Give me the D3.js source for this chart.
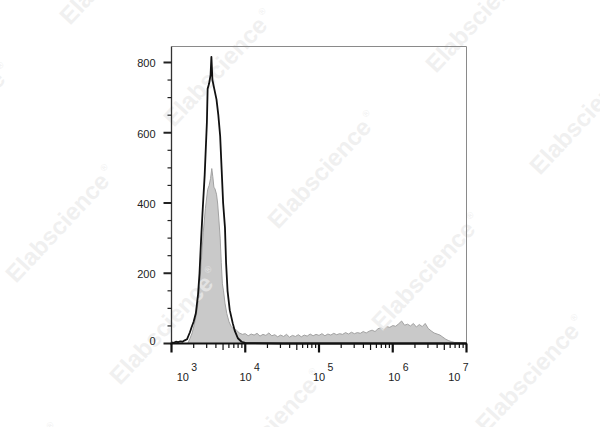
<!DOCTYPE html>
<html><head><meta charset="utf-8">
<script src="https://cdn.jsdelivr.net/npm/d3@7/dist/d3.min.js"></script>
<style>html,body{margin:0;padding:0;background:#fff;} svg{display:block;}</style>
</head><body><svg id="c" width="600" height="427"></svg>
<script>
// ---- data (log10 fluorescence exponent, event count) ----
const blackExp = [3.00,3.03,3.06,3.09,3.12,3.15,3.18,3.21,3.23,3.25,3.27,3.30,3.33,3.36,3.38,3.40,3.42,3.45,3.48,3.49,3.51,3.53,3.541,3.555,3.58,3.61,3.635,3.66,3.68,3.70,3.725,3.74,3.76,3.79,3.83,3.86,3.90,3.95,4.00,4.10,4.50,5.00,5.50,6.00,6.50,7.00];
const blackCount = [3,2,5,4,6,5,9,12,22,32,45,62,86,140,200,290,370,480,630,725,740,765,816,750,725,695,650,590,495,400,330,230,150,95,58,35,15,5,2,1,0,0,0,0,0,0];

const grayExp = [3.22,3.25,3.28,3.31,3.34,3.37,3.40,3.43,3.46,3.49,3.51,3.53,3.546,3.56,3.575,3.59,3.61,3.625,3.64,3.66,3.675,3.69,3.705,3.725,3.75,3.78,3.81,
  3.84,3.88,3.92,3.96,4.00,4.04,4.08,4.12,4.16,4.20,4.24,4.28,4.32,4.36,4.40,4.44,4.48,4.52,4.56,4.60,4.64,4.68,4.72,4.76,4.80,4.84,4.88,4.92,4.96,5.00,
  5.04,5.08,5.12,5.16,5.20,5.24,5.28,5.32,5.36,5.40,5.44,5.48,5.52,5.56,5.60,5.64,5.68,5.72,5.76,5.80,5.84,5.88,5.92,5.96,6.00,6.04,6.08,6.12,6.16,6.20,
  6.24,6.28,6.32,6.36,6.40,6.44,6.48,6.52,6.56,6.60,6.64,6.68,6.72,6.76,6.80,6.84,6.88,6.92,6.96,7.00];
const grayCount = [0,14,30,55,85,135,220,315,385,438,450,470,498,475,445,440,425,400,360,300,230,170,150,115,85,62,48,
  42,38,30,26,28,22,27,24,29,21,26,23,30,22,25,19,24,20,26,18,23,20,25,19,24,21,27,22,26,23,
  28,22,27,24,29,25,28,26,31,27,32,28,31,29,34,30,35,38,34,42,45,40,48,46,51,49,56,64,52,55,
  50,57,47,54,48,57,43,36,30,27,24,18,12,8,5,3,3,2,2,1];

const yTicks = [0,200,400,600,800];
const yMinorStep = 50;
const xDecades = [3,4,5,6,7];

// ---- layout ----
const L = 171.5, R = 466.5, T = 46.5, B = 343.5;
const svg = d3.select("#c");
const x = d3.scaleLog().domain([1e3,1e7]).range([L,R]);
const y = d3.scaleLinear().domain([0,845.5]).range([B,T]);
const font = "Arial, 'Liberation Sans', Helvetica, sans-serif";

// ---- gray filled histogram ----
const gray = grayExp.map((e,i)=>({v:Math.pow(10,e), c:grayCount[i]}));
svg.append("path").datum(gray)
  .attr("d", d3.area().x(d=>x(d.v)).y0(y(0)).y1(d=>y(d.c)))
  .attr("fill","#c9c9c9").attr("stroke","none");
svg.append("path").datum(gray)
  .attr("d", d3.line().x(d=>x(d.v)).y(d=>y(d.c)))
  .attr("fill","none").attr("stroke","#a2a2a2").attr("stroke-width",1);

// ---- watermarks ----
const wmOrigin = [174,128], wmA = [104,102], wmB = [262,-54];
const wm = svg.append("g");
for (let i=-2;i<=4;i++) for (let j=-2;j<=2;j++) {
  const px = wmOrigin[0]+i*wmA[0]+j*wmB[0], py = wmOrigin[1]+i*wmA[1]+j*wmB[1];
  if (px < -200 || px > 620 || py < -150 || py > 560) continue;
  const g = wm.append("g").attr("transform",`translate(${px},${py}) rotate(-47)`);
  g.append("text").attr("font-family",font).attr("font-weight","bold").attr("font-size",24)
    .attr("fill","#ebebeb").attr("fill-opacity",0.75).text("Elabscience");
  g.append("text").attr("x",142).attr("y",-12).attr("font-family",font).attr("font-size",9)
    .attr("fill","#ebebeb").attr("fill-opacity",0.75).text("®");
}

// ---- black outline histogram ----
const black = blackExp.map((e,i)=>({v:Math.pow(10,e), c:blackCount[i]}));
svg.append("path").datum(black)
  .attr("d", d3.line().x(d=>x(d.v)).y(d=>y(d.c)))
  .attr("fill","none").attr("stroke","#111").attr("stroke-width",1.8).attr("stroke-linejoin","round");

// ---- frame ----
svg.append("path").attr("d",`M${L},${T}H${R}V${B}`).attr("fill","none").attr("stroke","#8a8a8a").attr("stroke-width",1);

// ---- y axis ----
const yAxis = svg.append("g");
yAxis.append("line").attr("x1",L).attr("x2",L).attr("y1",T).attr("y2",B+1).attr("stroke","#333").attr("stroke-width",1.3);
d3.range(0, 801, yMinorStep).forEach(v=>{
  const major = yTicks.includes(v);
  yAxis.append("line").attr("x1",L).attr("x2",L-(major?8:4)).attr("y1",y(v)).attr("y2",y(v))
    .attr("stroke","#222").attr("stroke-width",major?2:1.2);
});
yTicks.forEach(v=>{
  yAxis.append("text").attr("x",155.5).attr("y",y(v)).attr("dy", v===0 ? "0.1em" : "0.45em")
    .attr("text-anchor","end").attr("font-family",font).attr("font-size",11).attr("fill","#222").text(v);
});

// ---- x axis ----
const xAxis = svg.append("g");
xAxis.append("line").attr("x1",L-1).attr("x2",R+0.5).attr("y1",B).attr("y2",B).attr("stroke","#111").attr("stroke-width",2);
x.ticks().forEach(v=>{
  const e = Math.log10(v), m = Math.round(v/Math.pow(10,Math.floor(e+1e-9)));
  const major = Math.abs(e-Math.round(e))<1e-9;
  const len = major?9:(m===5?6.5:4.5);
  xAxis.append("line").attr("x1",x(v)).attr("x2",x(v)).attr("y1",B).attr("y2",B+len)
    .attr("stroke","#111").attr("stroke-width",major?2.2:1.2);
});
const labelShift = {3:5.2,4:-5.8,5:-6,6:-4.6,7:-18.3};
xDecades.forEach(k=>{
  const x0 = x(Math.pow(10,k))+labelShift[k];
  xAxis.append("text").attr("x",x0).attr("y",381)
    .attr("font-family",font).attr("font-size",11).attr("fill","#222").text("10");
  xAxis.append("text").attr("x",x0+14.6).attr("y",371)
    .attr("font-family",font).attr("font-size",10.5).attr("fill","#222").text(k);
});
</script></body></html>
